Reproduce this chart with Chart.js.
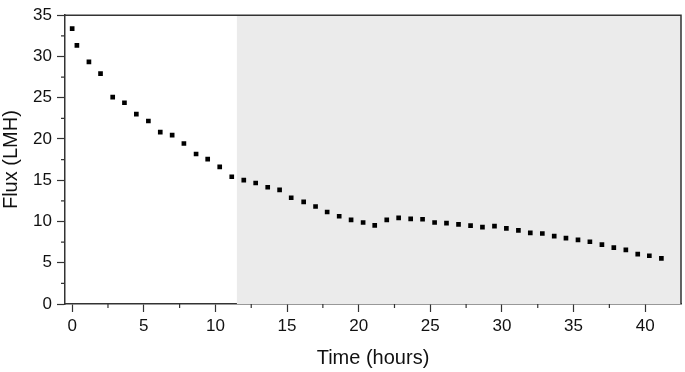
<!DOCTYPE html>
<html>
<head>
<meta charset="utf-8">
<script src="https://cdn.jsdelivr.net/npm/chart.js@4.4.0/dist/chart.umd.min.js"></script>
<style>
  html, body { margin: 0; padding: 0; background: #fff; }
  #wrap { width: 685px; height: 372px; }
</style>
</head>
<body>
<div id="wrap"><canvas id="fluxChart" width="685" height="372"></canvas></div>
<script>
// 讀取自圖片的數據
const timeHours = [0, 0.33, 1.17, 1.98, 2.83, 3.65, 4.48, 5.32, 6.15, 6.98, 7.8, 8.65, 9.46, 10.3, 11.14, 11.98,
    12.81, 13.65, 14.48, 15.29, 16.16, 16.99, 17.8, 18.64, 19.47, 20.31, 21.12, 21.96, 22.79, 23.63, 24.46, 25.3,
    26.13, 26.97, 27.81, 28.64, 29.48, 30.31, 31.15, 31.98, 32.82, 33.65, 34.47, 35.31, 36.14, 36.98, 37.81,
    38.65, 39.48, 40.29, 41.13];
const fluxLMH = [33.37, 31.35, 29.34, 27.91, 25.07, 24.39, 23.01, 22.18, 20.83, 20.47, 19.45, 18.18, 17.56, 16.61, 15.42, 15.02,
    14.66, 14.15, 13.83, 12.88, 12.37, 11.82, 11.15, 10.63, 10.2, 9.88, 9.53, 10.2, 10.44, 10.32, 10.27, 9.88,
    9.8, 9.64, 9.49, 9.32, 9.44, 9.17, 8.93, 8.61, 8.54, 8.22, 7.98, 7.78, 7.54, 7.19, 6.83,
    6.56, 6.05, 5.85, 5.53];
const xTicks = [0, 5, 10, 15, 20, 25, 30, 35, 40];
const yTicks = [0, 5, 10, 15, 20, 25, 30, 35];
const xRange = [-0.5, 42.5];
const yRange = [0, 35];
const shadeStart = 11.5;   // 灰色區域起點 (小時)

const axisColor = '#333';
const tickFont = { family: '"Liberation Sans", Arial, sans-serif', size: 17 };
const titleFont = { family: '"Liberation Sans", Arial, sans-serif', size: 20 };

// 灰色背景區域 + 外框 + 次刻度
const framePlugin = {
    id: 'frame',
    beforeDatasetsDraw(chart) {
        const { ctx, chartArea, scales } = chart;
        const x0 = scales.x.getPixelForValue(shadeStart);
        ctx.save();
        ctx.fillStyle = '#ebebeb';
        ctx.fillRect(x0, chartArea.top, chartArea.right - x0, chartArea.bottom - chartArea.top);
        ctx.restore();
    },
    afterDraw(chart) {
        const { ctx, chartArea, scales } = chart;
        ctx.save();
        ctx.strokeStyle = axisColor;
        ctx.lineWidth = 1.5;
        ctx.beginPath();
        ctx.moveTo(chartArea.left, chartArea.top);
        ctx.lineTo(chartArea.right, chartArea.top);
        ctx.lineTo(chartArea.right, chartArea.bottom);
        ctx.stroke();
        // 次刻度
        ctx.lineWidth = 1.2;
        ctx.beginPath();
        xTicks.forEach(v => {
            const px = scales.x.getPixelForValue(v + 2.5);
            if (v + 2.5 < xRange[1]) {
                ctx.moveTo(px, chartArea.bottom);
                ctx.lineTo(px, chartArea.bottom + 4);
            }
        });
        yTicks.forEach(v => {
            if (v + 2.5 < yRange[1]) {
                const py = scales.y.getPixelForValue(v + 2.5);
                ctx.moveTo(chartArea.left, py);
                ctx.lineTo(chartArea.left - 4, py);
            }
        });
        ctx.stroke();
        ctx.restore();
    }
};

const ctx = document.getElementById('fluxChart').getContext('2d');
new Chart(ctx, {
    type: 'scatter',
    data: {
        datasets: [{
            label: 'Flux',
            data: timeHours.map((t, i) => ({ x: t, y: fluxLMH[i] })),
            pointStyle: 'rect',
            pointRadius: 3.3,
            pointBorderWidth: 0,
            backgroundColor: '#000',
            borderColor: '#000',
            showLine: false
        }]
    },
    options: {
        responsive: false,
        animation: false,
        layout: { padding: { top: 9, right: 3, left: 0, bottom: 0 } },
        plugins: {
            legend: { display: false },
            tooltip: { enabled: false }
        },
        scales: {
            x: {
                type: 'linear',
                min: xRange[0],
                max: xRange[1],
                afterBuildTicks: scale => { scale.ticks = xTicks.map(v => ({ value: v })); },
                afterFit: scale => { scale.height = 68; },
                ticks: { color: '#111', font: tickFont, padding: 4 },
                grid: { display: true, drawOnChartArea: false, tickLength: 8, color: axisColor, tickWidth: 1.2 },
                border: { display: true, color: axisColor, width: 1.5 },
                title: { display: true, text: 'Time (hours)', color: '#111', font: titleFont, padding: { top: 0, bottom: 2 } }
            },
            y: {
                type: 'linear',
                min: yRange[0],
                max: yRange[1],
                afterBuildTicks: scale => { scale.ticks = yTicks.map(v => ({ value: v })); },
                afterFit: scale => { scale.width = 65; },
                ticks: { color: '#111', font: tickFont, padding: 5 },
                grid: { display: true, drawOnChartArea: false, tickLength: 8, color: axisColor, tickWidth: 1.2 },
                border: { display: true, color: axisColor, width: 1.5 },
                title: { display: true, text: 'Flux (LMH)', color: '#111', font: titleFont, padding: { top: -1, bottom: 0 } }
            }
        }
    },
    plugins: [framePlugin]
});
</script>
</body>
</html>
